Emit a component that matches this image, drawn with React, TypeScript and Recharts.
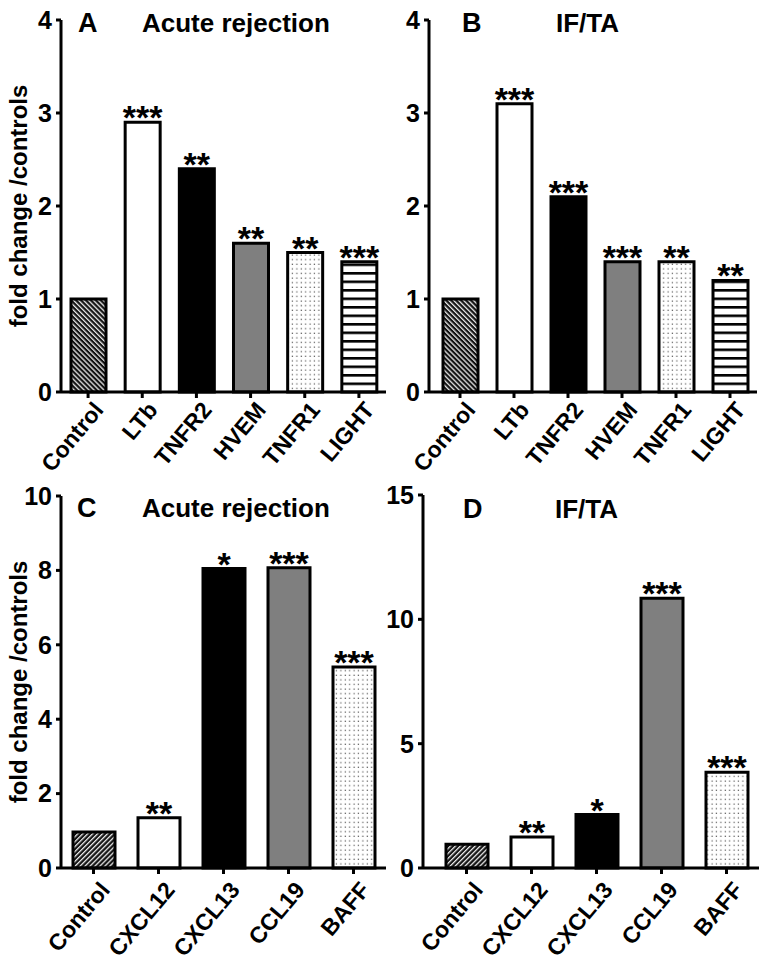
import React from "react";
import { BarChart, Bar, XAxis, YAxis, Cell, LabelList } from "recharts";

const FONT = '"Liberation Sans", Arial, Helvetica, sans-serif';

// panels A and B: TNF superfamily members
const tnfGenes = ["Control", "LTb", "TNFR2", "HVEM", "TNFR1", "LIGHT"];
const acuteTnfValues = [1.0, 2.9, 2.4, 1.6, 1.5, 1.4];
const acuteTnfStars = ["", "***", "**", "**", "**", "***"];
const ifTaTnfValues = [1.0, 3.1, 2.1, 1.4, 1.4, 1.2];
const ifTaTnfStars = ["", "***", "***", "***", "**", "**"];
const tnfTicks = [0, 1, 2, 3, 4];

// panels C and D: chemokines
const chemoGenes = ["Control", "CXCL12", "CXCL13", "CCL19", "BAFF"];
const acuteChemoValues = [0.97, 1.35, 8.05, 8.07, 5.4];
const acuteChemoStars = ["", "**", "*", "***", "***"];
const ifTaChemoValues = [0.96, 1.25, 2.15, 10.85, 3.85];
const ifTaChemoStars = ["", "**", "*", "***", "***"];
const acuteChemoTicks = [0, 2, 4, 6, 8, 10];
const ifTaChemoTicks = [0, 5, 10, 15];

const axisStroke = { stroke: "#000", strokeWidth: 3 };

function Patterns({ id }: { id: string }) {
  return (
    <defs>
      <pattern id={`${id}-hatch`} width={3.5} height={3.5} patternUnits="userSpaceOnUse"
        patternTransform={id === "a" || id === "b" ? "rotate(-45)" : "rotate(45)"}>
        <rect width={3.5} height={3.5} fill="#111" />
        <rect width={1.3} height={3.5} fill="#e8e8e8" />
      </pattern>
      <pattern id={`${id}-dots`} width={4.4} height={4.6} patternUnits="userSpaceOnUse">
        <rect width={4.4} height={4.6} fill="#fff" />
        <rect x={1.5} y={1.5} width={1.2} height={1.2} fill="#555" />
      </pattern>
      <pattern id={`${id}-lines`} width={8} height={8.5} patternUnits="userSpaceOnUse">
        <rect width={8} height={8.5} fill="#fff" />
        <rect y={0} width={8} height={2.6} fill="#000" />
      </pattern>
    </defs>
  );
}

const StarLabel = (props: any) => {
  const vb = props.viewBox || props;
  const x = vb.x ?? props.x;
  const y = vb.y ?? props.y;
  const w = vb.width ?? props.width;
  if (!props.value) return null;
  return (
    <text x={x + w / 2} y={y + 7} textAnchor="middle" fontSize={34}
      fontWeight="bold" fontFamily={FONT} fill="#000">
      {props.value}
    </text>
  );
};

interface PanelProps {
  id: string;
  left: number;
  top: number;
  width: number;
  height: number;
  marginTop: number;
  marginRight: number;
  yAxisWidth: number;
  xAxisHeight: number;
  padLeft: number;
  barSize: number;
  labelDx: number;
  labelDy: number;
  categories: string[];
  values: number[];
  stars: string[];
  ticks: number[];
  letter: string;
  letterX: number;
  title: string;
  titleX: number;
  titleY: number;
  yLabel?: boolean;
  fills: string[];
}

function Panel(p: PanelProps) {
  const data = p.categories.map((name, i) => ({ name, value: p.values[i], stars: p.stars[i] }));
  const max = p.ticks[p.ticks.length - 1];
  const plotMid = p.marginTop + (p.height - p.marginTop - p.xAxisHeight) / 2;
  return (
    <div style={{ position: "absolute", left: p.left, top: p.top }}>
      <BarChart width={p.width} height={p.height} data={data} style={{ overflow: "visible" }}
        margin={{ top: p.marginTop, right: p.marginRight, bottom: 0, left: 0 }}>
        <Patterns id={p.id} />
        <XAxis dataKey="name" interval={0} tickSize={6} tickMargin={2}
          angle={-50} textAnchor="end" dx={p.labelDx} dy={p.labelDy}
          tick={{ fontSize: 23, fontWeight: "bold", fill: "#000", fontFamily: FONT }}
          height={p.xAxisHeight} axisLine={axisStroke} tickLine={axisStroke}
          padding={{ left: p.padLeft, right: 0 }} />
        <YAxis domain={[0, max]} ticks={p.ticks} width={p.yAxisWidth} tickSize={5} tickMargin={4}
          axisLine={axisStroke} tickLine={axisStroke} interval={0}
          tick={{ fontSize: 25, fontWeight: "bold", fill: "#000", fontFamily: FONT }} />
        <Bar dataKey="value" barSize={p.barSize} stroke="#000" strokeWidth={3} isAnimationActive={false}>
          {data.map((_, i) => (
            <Cell key={i} fill={p.fills[i].startsWith("#") ? p.fills[i] : `url(#${p.id}-${p.fills[i]})`} />
          ))}
          <LabelList dataKey="stars" content={<StarLabel />} />
        </Bar>
        <text x={p.letterX} y={p.titleY} fontSize={27} fontWeight="bold" fontFamily={FONT} fill="#000">
          {p.letter}
        </text>
        <text x={p.titleX} y={p.titleY} fontSize={26} fontWeight="bold" fontFamily={FONT} fill="#000">
          {p.title}
        </text>
        {p.yLabel && (
          <text x={27} y={plotMid} transform={`rotate(-90 27 ${plotMid})`} textAnchor="middle"
            fontSize={24} fontWeight="bold" fontFamily={FONT} fill="#000">
            fold change /controls
          </text>
        )}
      </BarChart>
    </div>
  );
}

const tnfFills = ["hatch", "#fff", "#000", "#7f7f7f", "dots", "lines"];
const chemoFills = ["hatch", "#fff", "#000", "#7f7f7f", "dots"];

export default function App() {
  return (
    <div style={{ position: "absolute", left: 0, top: 0, width: 763, height: 963, background: "#fff" }}>
      <Panel id="a" left={0} top={0} width={390} height={480} marginTop={20} marginRight={4}
        yAxisWidth={61} xAxisHeight={88} padLeft={0} barSize={35} labelDx={4} labelDy={0}
        categories={tnfGenes} values={acuteTnfValues} stars={acuteTnfStars} ticks={tnfTicks}
        letter="A" letterX={78} title="Acute rejection" titleX={142} titleY={32} yLabel fills={tnfFills} />
      <Panel id="b" left={380} top={0} width={383} height={480} marginTop={20} marginRight={6}
        yAxisWidth={49} xAxisHeight={88} padLeft={4} barSize={35} labelDx={4} labelDy={0}
        categories={tnfGenes} values={ifTaTnfValues} stars={ifTaTnfStars} ticks={tnfTicks}
        letter="B" letterX={82} title="IF/TA" titleX={176} titleY={32} fills={tnfFills} />
      <Panel id="c" left={0} top={480} width={390} height={483} marginTop={16} marginRight={4}
        yAxisWidth={61} xAxisHeight={95} padLeft={0} barSize={42} labelDx={5} labelDy={4}
        categories={chemoGenes} values={acuteChemoValues} stars={acuteChemoStars} ticks={acuteChemoTicks}
        letter="C" letterX={77} title="Acute rejection" titleX={142} titleY={37} yLabel fills={chemoFills} />
      <Panel id="d" left={380} top={480} width={383} height={483} marginTop={15} marginRight={4}
        yAxisWidth={43} xAxisHeight={95} padLeft={11} barSize={42} labelDx={5} labelDy={4}
        categories={chemoGenes} values={ifTaChemoValues} stars={ifTaChemoStars} ticks={ifTaChemoTicks}
        letter="D" letterX={83} title="IF/TA" titleX={175} titleY={38} fills={chemoFills} />
    </div>
  );
}
